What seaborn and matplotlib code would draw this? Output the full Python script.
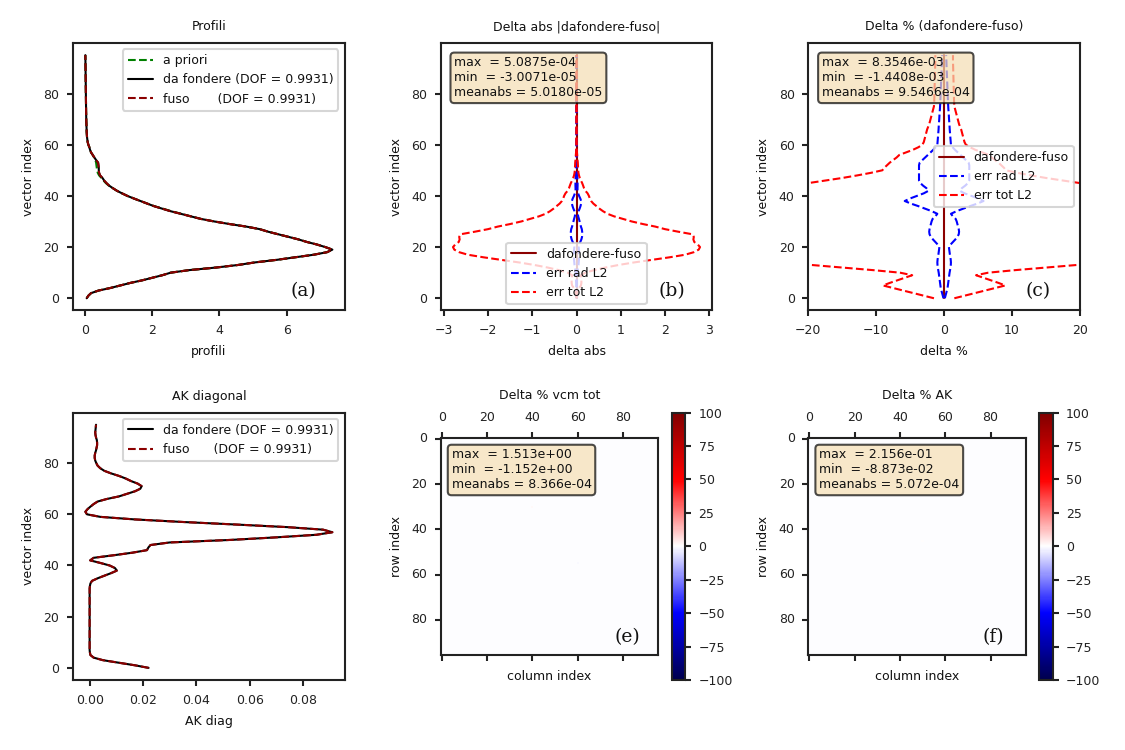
import numpy as np
import pandas as pd
import matplotlib
matplotlib.use("Agg")
import matplotlib.pyplot as plt
import seaborn as sns

# ---------------- data ----------------
vec_index = list(range(96))

prof_dafondere = [
    0.05, 0.10, 0.18, 0.40, 0.75, 1.05, 1.35, 1.70, 2.00, 2.30,
    2.55, 3.10, 3.90, 4.55, 5.05, 5.70, 6.25, 6.80, 7.20, 7.36,
    7.15, 6.90, 6.60, 6.35, 6.05, 5.75, 5.45, 5.20, 4.80, 4.30,
    3.85, 3.45, 3.15, 2.85, 2.55, 2.30, 2.05, 1.85, 1.65, 1.45,
    1.26, 1.10, 0.95, 0.83, 0.72, 0.64, 0.57, 0.52, 0.45, 0.42,
    0.41, 0.41, 0.40, 0.39, 0.33, 0.28, 0.23, 0.18, 0.15, 0.13,
    0.10, 0.08, 0.07, 0.06, 0.055, 0.050, 0.048, 0.045, 0.043, 0.040,
    0.038, 0.036, 0.035, 0.033, 0.032, 0.031, 0.030, 0.029, 0.028, 0.027,
    0.026, 0.025, 0.024, 0.023, 0.022, 0.021, 0.020, 0.019, 0.018, 0.017,
    0.016, 0.015, 0.014, 0.013, 0.012, 0.011]

prof_apriori = [
    0.05, 0.10, 0.18, 0.40, 0.75, 1.05, 1.35, 1.70, 2.00, 2.30,
    2.55, 3.10, 3.90, 4.55, 5.05, 5.70, 6.25, 6.80, 7.20, 7.36,
    7.15, 6.90, 6.60, 6.35, 6.05, 5.75, 5.45, 5.20, 4.80, 4.30,
    3.85, 3.45, 3.15, 2.87, 2.57, 2.32, 2.06, 1.85, 1.65, 1.45,
    1.26, 1.10, 0.95, 0.83, 0.71, 0.62, 0.55, 0.49, 0.42, 0.38,
    0.36, 0.35, 0.34, 0.33, 0.31, 0.27, 0.23, 0.18, 0.15, 0.13,
    0.10, 0.08, 0.07, 0.06, 0.055, 0.050, 0.048, 0.045, 0.043, 0.040,
    0.038, 0.036, 0.035, 0.033, 0.032, 0.031, 0.030, 0.029, 0.028, 0.027,
    0.026, 0.025, 0.024, 0.023, 0.022, 0.021, 0.020, 0.019, 0.018, 0.017,
    0.016, 0.015, 0.014, 0.013, 0.012, 0.011]

prof_fuso = list(prof_dafondere)

errtot_abs = [
    0.001, 0.003, 0.010, 0.030, 0.060, 0.100, 0.110, 0.110, 0.100, 0.100,
    0.200, 0.400, 0.650, 0.950, 1.300, 1.700, 2.100, 2.450, 2.650, 2.760,
    2.790, 2.740, 2.660, 2.640, 2.650, 2.620, 2.300, 2.000, 1.780, 1.500,
    1.250, 1.050, 0.850, 0.700, 0.600, 0.520, 0.450, 0.380, 0.330, 0.300,
    0.280, 0.250, 0.200, 0.170, 0.150, 0.128, 0.100, 0.075, 0.056, 0.044,
    0.038, 0.035, 0.032, 0.029, 0.023, 0.019, 0.015, 0.010, 0.007, 0.005,
    0.0032, 0.0024, 0.0020, 0.0017, 0.0014, 0.0013, 0.0012, 0.0011, 0.0010, 0.0009,
    0.0008, 0.0007, 0.0006, 0.0006, 0.0005, 0.0005, 0.0004, 0.0004, 0.0004, 0.0004,
    0.0004, 0.0004, 0.0004, 0.0003, 0.0003, 0.0003, 0.0003, 0.0003, 0.0003, 0.0003,
    0.0002, 0.0002, 0.0002, 0.0002, 0.0002, 0.0002]

errrad_abs = [
    0.0003, 0.001, 0.002, 0.003, 0.004, 0.006, 0.008, 0.011, 0.014, 0.017,
    0.020, 0.025, 0.035, 0.045, 0.050, 0.055, 0.056, 0.058, 0.058, 0.055,
    0.050, 0.060, 0.086, 0.110, 0.125, 0.130, 0.128, 0.120, 0.100, 0.085,
    0.070, 0.055, 0.038, 0.030, 0.045, 0.070, 0.090, 0.105, 0.105, 0.085,
    0.058, 0.036, 0.022, 0.022, 0.024, 0.024, 0.022, 0.020, 0.018, 0.016,
    0.016, 0.015, 0.015, 0.014, 0.011, 0.008, 0.005, 0.003, 0.002, 0.0015,
    0.0010, 0.0008, 0.0007, 0.0006, 0.0005, 0.0004, 0.0004, 0.0004, 0.0003, 0.0003,
    0.0003, 0.0003, 0.0002, 0.0002, 0.0002, 0.0002, 0.0002, 0.0002, 0.0002, 0.0002,
    0.0001, 0.0001, 0.0001, 0.0001, 0.0001, 0.0001, 0.0001, 0.0001, 0.0001, 0.0001,
    0.0001, 0.0001, 0.0001, 0.0001, 0.0001, 0.0001]

errtot_pct = [
    1.5, 3.0, 4.5, 6.0, 7.5, 9.0, 8.0, 6.9, 5.8, 4.7,
    6.5, 10.5, 15.0, 19.5, 24.0, 28.0, 31.0, 34.0, 36.0, 37.0,
    38.0, 39.0, 40.0, 41.0, 42.0, 43.0, 42.0, 40.0, 38.0, 36.0,
    34.0, 32.0, 30.0, 28.0, 26.5, 25.5, 24.5, 23.5, 22.8, 22.2,
    21.8, 21.5, 21.2, 20.9, 20.5, 20.0, 17.5, 15.0, 12.8, 10.8,
    9.1, 8.8, 8.4, 8.0, 7.5, 7.0, 6.6, 5.6, 4.6, 3.8,
    3.2, 3.0, 2.9, 2.8, 2.7, 2.6, 2.5, 2.35, 2.2, 2.1,
    2.0, 1.9, 1.8, 1.7, 1.6, 1.5, 1.48, 1.46, 1.45, 1.44,
    1.43, 1.42, 1.41, 1.40, 1.39, 1.38, 1.37, 1.36, 1.35, 1.34,
    1.33, 1.32, 1.31, 1.30, 1.30, 1.30]

errrad_pct = [
    0.1, 0.2, 0.3, 0.4, 0.5, 0.55, 0.6, 0.65, 0.7, 0.75,
    0.8, 0.87, 0.93, 0.98, 1.0, 0.97, 0.92, 0.85, 0.8, 0.75,
    0.7, 0.95, 1.3, 1.65, 1.95, 2.15, 2.2, 2.15, 2.05, 1.95,
    1.85, 1.7, 1.3, 1.0, 1.8, 2.8, 3.8, 4.9, 5.8, 5.0,
    4.0, 3.0, 2.3, 2.6, 3.1, 3.5, 3.7, 3.7, 3.7, 3.7,
    3.7, 3.7, 3.7, 3.6, 3.2, 2.8, 2.4, 2.0, 1.6, 1.25,
    1.0, 0.97, 0.94, 0.91, 0.88, 0.85, 0.82, 0.8, 0.78, 0.75,
    0.72, 0.7, 0.68, 0.65, 0.62, 0.6, 0.58, 0.56, 0.55, 0.53,
    0.52, 0.5, 0.49, 0.47, 0.46, 0.44, 0.43, 0.41, 0.4, 0.38,
    0.37, 0.35, 0.34, 0.33, 0.31, 0.3]

ak_dafondere = [
    0.0221, 0.0170, 0.0110, 0.0050, 0.0015, 0.0003, 0.0001, 0.0000, 0.0000, 0.0000,
    0.0000, 0.0000, 0.0000, 0.0000, 0.0000, 0.0000, 0.0000, 0.0000, 0.0000, 0.0000,
    0.0000, 0.0000, 0.0000, 0.0000, 0.0000, 0.0000, 0.0000, 0.0000, 0.0000, 0.0000,
    0.0000, 0.0000, 0.0001, 0.0003, 0.0009, 0.0030, 0.0055, 0.0080, 0.0102, 0.0095,
    0.0075, 0.0040, 0.0002, 0.0015, 0.0090, 0.0160, 0.0215, 0.0220, 0.0228, 0.0300,
    0.0530, 0.0700, 0.0850, 0.0910, 0.0875, 0.0740, 0.0550, 0.0350, 0.0170, 0.0040,
    -0.0010, -0.0016, -0.0008, 0.0003, 0.0015, 0.0030, 0.0065, 0.0110, 0.0140, 0.0170,
    0.0190, 0.0195, 0.0180, 0.0155, 0.0135, 0.0110, 0.0080, 0.0055, 0.0040, 0.0030,
    0.0025, 0.0021, 0.0019, 0.0019, 0.0021, 0.0024, 0.0026, 0.0028, 0.0028, 0.0027,
    0.0024, 0.0022, 0.0021, 0.0022, 0.0023, 0.0024]
ak_fuso = list(ak_dafondere)

delta_abs = list(np.subtract(prof_dafondere, prof_fuso))
delta_pct = list(np.subtract(prof_dafondere, prof_fuso) / np.array(prof_dafondere) * 100)

# heatmap matrices (values in %, essentially zero everywhere)
n_mat = 96
vcm_tot_base = -0.0008
vcm_tot_cells = [(30, 40, 1.513), (55, 60, -1.152)]
ak_base = -0.0005
ak_cells = [(45, 50, 0.2156), (60, 35, -0.08873)]

box_b = "max  = 5.0875e-04\nmin  = -3.0071e-05\nmeanabs = 5.0180e-05"
box_c = "max  = 8.3546e-03\nmin  = -1.4408e-03\nmeanabs = 9.5466e-04"
box_e = "max  = 1.513e+00\nmin  = -1.152e+00\nmeanabs = 8.366e-04"
box_f = "max  = 2.156e-01\nmin  = -8.873e-02\nmeanabs = 5.072e-04"
cbar_ticks = [-100, -75, -50, -25, 0, 25, 50, 75, 100]
mat_ticks = [0, 20, 40, 60, 80]

# ---------------- style ----------------
sns.set_style("ticks")
plt.rcParams.update({
    "font.family": ["DejaVu Sans"],
    "font.size": 6,
    "axes.titlesize": 6,
    "axes.labelsize": 6,
    "xtick.labelsize": 6,
    "ytick.labelsize": 6,
    "legend.fontsize": 6,
    "axes.linewidth": 1.0,
    "axes.edgecolor": "#222222",
    "text.color": "#111111",
    "axes.labelcolor": "#111111",
    "xtick.color": "#222222",
    "ytick.color": "#222222",
    "xtick.major.size": 3,
    "ytick.major.size": 3,
    "xtick.major.width": 1.0,
    "ytick.major.width": 1.0,
    "lines.linewidth": 1.0,
    "legend.frameon": True,
    "legend.framealpha": 0.8,
    "legend.edgecolor": "0.8",
    "legend.fancybox": True,
})

fig, axes = plt.subplots(2, 3, figsize=(7.5, 5), dpi=150)
fig.subplots_adjust(left=0.0649, right=0.96, top=0.9427, bottom=0.0933,
                    wspace=0.353, hspace=0.382)

bbox_kw = dict(boxstyle="round", facecolor="wheat", edgecolor="black", alpha=0.7, linewidth=1.0)


def line(ax, x, color, ls, label=None):
    sns.lineplot(x=x, y=vec_index, ax=ax, color=color, linestyle=ls,
                 sort=False, estimator=None, label=label, linewidth=1.0)


def letter(ax, s):
    ax.text(0.80, 0.04, s, transform=ax.transAxes, fontsize=9,
            family="DejaVu Serif", ha="left", va="bottom")


def statbox(ax, s):
    ax.text(0.05, 0.95, s, transform=ax.transAxes, fontsize=6,
            va="top", ha="left", bbox=bbox_kw)


# (a) profiles
ax = axes[0, 0]
line(ax, prof_apriori, "green", "--", "a priori")
line(ax, prof_dafondere, "black", "-", "da fondere (DOF = 0.9931)")
line(ax, prof_fuso, "darkred", "--", "fuso       (DOF = 0.9931)")
ax.set_title("Profili")
ax.set_xlabel("profili")
ax.set_ylabel("vector index")
ax.legend(loc="upper right")
letter(ax, "(a)")

# (b) delta abs
ax = axes[0, 1]
line(ax, delta_abs, "darkred", "-", "dafondere-fuso")
line(ax, errrad_abs, "blue", "--", "err rad L2")
line(ax, [-v for v in errrad_abs], "blue", "--")
line(ax, errtot_abs, "red", "--", "err tot L2")
line(ax, [-v for v in errtot_abs], "red", "--")
ax.set_title("Delta abs |dafondere-fuso|")
ax.set_xlabel("delta abs")
ax.set_ylabel("vector index")
ax.legend(loc="lower center")
statbox(ax, box_b)
letter(ax, "(b)")

# (c) delta %
ax = axes[0, 2]
line(ax, delta_pct, "darkred", "-", "dafondere-fuso")
line(ax, errrad_pct, "blue", "--", "err rad L2")
line(ax, [-v for v in errrad_pct], "blue", "--")
line(ax, errtot_pct, "red", "--", "err tot L2")
line(ax, [-v for v in errtot_pct], "red", "--")
ax.set_xlim(-20, 20)
ax.set_title("Delta % (dafondere-fuso)")
ax.set_xlabel("delta %")
ax.set_ylabel("vector index")
ax.legend(loc="center right")
statbox(ax, box_c)
letter(ax, "(c)")

# (d) AK diagonal
ax = axes[1, 0]
line(ax, ak_dafondere, "black", "-", "da fondere (DOF = 0.9931)")
line(ax, ak_fuso, "darkred", "--", "fuso      (DOF = 0.9931)")
ax.set_title("AK diagonal")
ax.set_xlabel("AK diag")
ax.set_ylabel("vector index")
ax.legend(loc="upper right")


def matrix(base, cells):
    m = np.full((n_mat, n_mat), base)
    for r, c, v in cells:
        m[r, c] = v
    return pd.DataFrame(m)


def heat(ax, df, title, box, let):
    sns.heatmap(df, ax=ax, cmap="seismic", vmin=-100, vmax=100, square=True,
                xticklabels=False, yticklabels=False,
                cbar_kws={"ticks": cbar_ticks})
    for s in ax.spines.values():
        s.set_visible(True)
        s.set_linewidth(1.0)
        s.set_color("#222222")
    pos = [t + 0.5 for t in mat_ticks]
    ax.set_xticks(pos)
    ax.set_xticklabels([str(t) for t in mat_ticks])
    ax.set_yticks(pos)
    ax.set_yticklabels([str(t) for t in mat_ticks], rotation=0, va="center")
    ax.tick_params(axis="x", top=True, labeltop=True, bottom=True, labelbottom=False,
                   length=3, width=1.0)
    ax.tick_params(axis="y", left=True, length=3, width=1.0)
    ax.xaxis.set_label_position("bottom")
    ax.set_xlabel("column index")
    ax.set_ylabel("row index")
    ax.set_title(title)
    cb = ax.collections[0].colorbar
    cb.outline.set_linewidth(1.0)
    cb.outline.set_edgecolor("#222222")
    cb.ax.tick_params(labelsize=6, length=3, width=1.0)
    statbox(ax, box)
    letter(ax, let)


heat(axes[1, 1], matrix(vcm_tot_base, vcm_tot_cells), "Delta % vcm tot", box_e, "(e)")
heat(axes[1, 2], matrix(ak_base, ak_cells), "Delta % AK", box_f, "(f)")

fig.savefig("out.png", dpi=150)
